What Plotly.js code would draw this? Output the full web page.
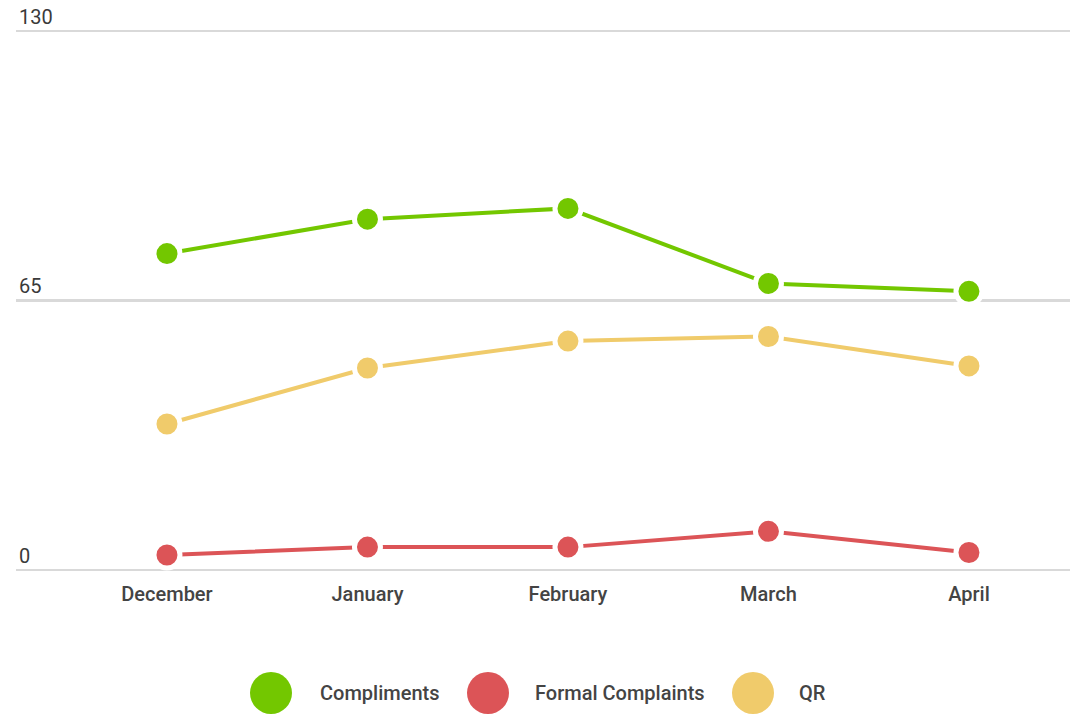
<!DOCTYPE html>
<html>
<head>
<meta charset="utf-8">
<script src="https://cdn.plot.ly/plotly-3.0.1.min.js"></script>
<style>html,body{margin:0;padding:0;background:#fff;}#chart{width:1086px;height:716px;}</style>
</head>
<body>
<div id="chart"></div>
<script>
const months = ["December", "January", "February", "March", "April"];
const compliments = [76.3, 84.6, 87.2, 69.1, 67.2];
const formalComplaints = [3.6, 5.5, 5.5, 9.3, 4.2];
const qr = [35.2, 48.7, 55.2, 56.3, 49.2];
const seriesNames = ["Compliments", "Formal Complaints", "QR"];
const seriesColors = ["#73c700", "#dc5457", "#f0cb6b"];
const yTicks = [0, 65, 130];

const seriesData = [compliments, formalComplaints, qr];
const traces = seriesData.map((vals, i) => ({
  type: "scatter",
  mode: "lines+markers",
  x: months,
  y: vals,
  name: seriesNames[i],
  line: {color: seriesColors[i], width: 4},
  marker: {color: seriesColors[i], size: 26, line: {color: "#ffffff", width: 5}},
  cliponaxis: false,
  showlegend: false
}));

// custom legend (large circles)
const topM = 0, botM = 144;
const plotH = 716 - topM - botM;
const plotBottom = 716 - botM;
const legendY = -(693 - plotBottom) / plotH;
const legendX = [271, 488, 753];
const textX = [321, 536, 800];
const shapes = seriesNames.map((n, i) => ({
  type: "circle", xref: "paper", yref: "paper",
  xsizemode: "pixel", ysizemode: "pixel",
  xanchor: (legendX[i] - 16) / 1054, yanchor: legendY,
  x0: -21, x1: 21, y0: -21, y1: 21,
  fillcolor: seriesColors[i], line: {width: 0}
}));
const annotations = seriesNames.map((n, i) => ({
  text: n, xref: "paper", yref: "paper",
  x: (textX[i] - 16) / 1054, y: legendY,
  xanchor: "left", yanchor: "middle", showarrow: false, xshift: -3,
  font: {family: "Roboto, sans-serif", size: 20, weight: 500, color: "#444444"}
}));

const pxPerUnit = 539 / 130;
const layout = {
  width: 1086, height: 716,
  margin: {l: 16, r: 16, t: topM, b: botM},
  paper_bgcolor: "#ffffff", plot_bgcolor: "#ffffff",
  font: {family: "Roboto, sans-serif", color: "#444444"},
  xaxis: {
    type: "category",
    range: [-0.753, 4.504],
    showgrid: false, zeroline: false, showline: false,
    ticks: "", ticklabelstandoff: 8,
    tickfont: {size: 20, weight: 500, color: "#444444"}
  },
  yaxis: {
    range: [-0.5, -0.5 + plotH / pxPerUnit],
    tickvals: yTicks,
    ticktext: yTicks.map(String),
    ticklabelposition: "inside top",
    tickfont: {size: 20, color: "#3a3a3a"},
    showgrid: true, gridcolor: "#d9d9d9", gridwidth: 2.5,
    zeroline: false, showline: false, ticks: ""
  },
  shapes: shapes,
  annotations: annotations,
  showlegend: false
};

Plotly.newPlot("chart", traces, layout, {displayModeBar: false, staticPlot: true});
</script>
</body>
</html>
